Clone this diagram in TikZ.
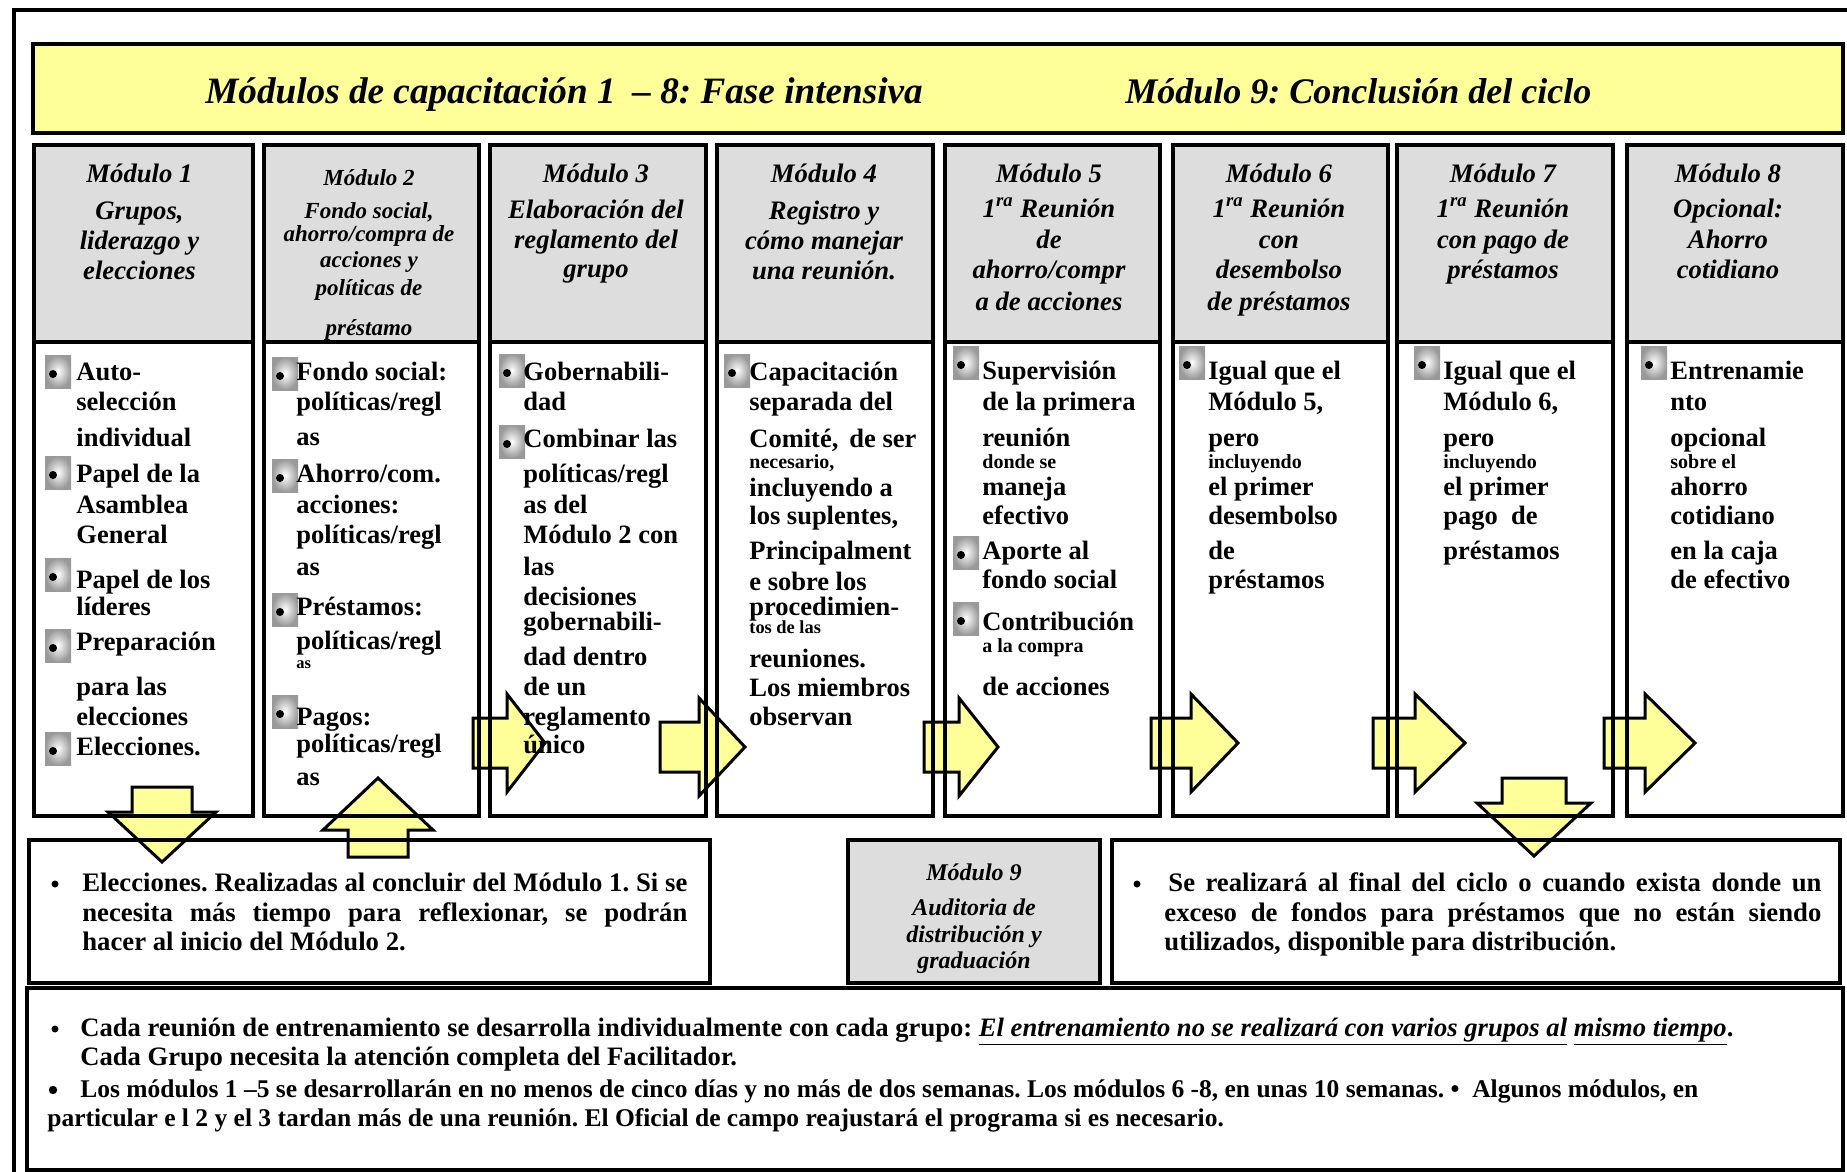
\documentclass[tikz,border=0pt]{standalone}
\usepackage{fontspec}
\setmainfont{Liberation Serif}
\frenchspacing
\usetikzlibrary{fit}
\definecolor{bannery}{RGB}{255,255,153}
\definecolor{hdrgray}{RGB}{221,221,221}
\definecolor{arrowy}{RGB}{255,255,153}
\pgfdeclarelayer{bg}
\pgfdeclarelayer{arr}
\pgfsetlayers{bg,arr,main}
\newcounter{tlc}
\newcommand\BT[4][]{\stepcounter{tlc}\edef\tlname{bt\arabic{tlc}}\node[bt,#1] (\tlname) at (#2,#3) {#4};}
\newcommand\HT[4][]{\stepcounter{tlc}\edef\tlname{ht\arabic{tlc}}\node[hd,#1] (\tlname) at (#2,#3) {#4};}
\newcommand\BQ[2]{\shade[inner color=white,outer color=gray!80] (#1,#2) rectangle ++(26,33);
  \fill (#1+8,#2+19) circle (2pt);}
% x0 (shaft start), xb (head base), xt (tip), yc
\newcommand\RArrow[4]{\draw[blockarrow] (#1,#4-25) -- (#2,#4-25) -- (#2,#4-49) -- (#3,#4) -- (#2,#4+49) -- (#2,#4+25) -- (#1,#4+25) -- cycle;}
% xc, y0 (shaft end), yb (head base), yt (tip), shaft half, head half
\newcommand\VArrow[6]{\draw[blockarrow] (#1-#5,#2) -- (#1-#5,#3) -- (#1-#6,#3) -- (#1,#4) -- (#1+#6,#3) -- (#1+#5,#3) -- (#1+#5,#2) -- cycle;}
\tikzset{
  bt/.style={anchor=base west, inner sep=0pt, font=\fontsize{13.25}{15}\selectfont\bfseries},
  sm/.style={font=\fontsize{10}{12}\selectfont\bfseries},
  hd/.style={anchor=base, inner sep=0pt, font=\fontsize{13.35}{15}\selectfont\bfseries\itshape},
  hdsm/.style={font=\fontsize{11.5}{13}\selectfont\bfseries\itshape},
  ttl/.style={anchor=base west, inner sep=0pt, font=\fontsize{18}{20}\selectfont\bfseries\itshape},
  lt/.style={anchor=base west, inner sep=0pt, font=\fontsize{13.35}{16}\selectfont\bfseries},
  nt/.style={anchor=base west, inner sep=0pt, font=\fontsize{13.3}{15}\selectfont\bfseries},
  ntb/.style={anchor=base west, inner sep=0pt, font=\fontsize{12.75}{15}\selectfont\bfseries},
  frame/.style={draw, inner sep=0pt, line width=1.6pt},
  lowbox/.style={draw, inner sep=0pt, line width=1.9pt},
  blockarrow/.style={draw=black, fill=arrowy, line width=1.5pt, line join=miter},
}
\begin{document}
\begin{tikzpicture}[x=0.5pt,y=-0.5pt]
\useasboundingbox (0,0) rectangle (1847,1172);
\begin{pgfonlayer}{bg}
  \fill[white] (0,0) rectangle (1847,1172);
  \fill[bannery] (33,44) rectangle (1843,133);
  \foreach \xl/\xr in {34/253,264/479,490/706,717/933,945/1160,1173/1388,1397/1613,1627/1843}
    {\fill[hdrgray] (\xl,145) rectangle (\xr,342);}
  \fill[hdrgray] (848,840) rectangle (1100,983);
\end{pgfonlayer}
\begin{pgfonlayer}{arr}
  \RArrow{473}{507}{545}{743}
  \RArrow{660}{699}{745}{747}
  \RArrow{924}{959}{998}{747}
  \RArrow{1151}{1191}{1238}{743}
  \RArrow{1373}{1415}{1465}{743}
  \RArrow{1604}{1645}{1695}{743}
  \VArrow{162}{787}{812}{862}{30}{54}
  \VArrow{1534}{778}{803}{856}{32}{57}
  \VArrow{378}{857}{830}{778}{30}{55}
\end{pgfonlayer}
% outer frame
\draw[line width=1.6pt] (14,1172) -- (14,10) -- (1847,10);
% banner
\node[fit={(33,44)(1843,133)}, draw, inner sep=0pt, line width=2pt] (banner) {};
\node[ttl, font=\fontsize{18.6}{20}\selectfont\bfseries\itshape] (title1) at (205,104) {Módulos de capacitación 1\hspace{0.45em}–\hspace{0.25em}8: Fase intensiva};
\node[ttl] (title2) at (1125,104) {Módulo 9: Conclusión del ciclo};
% module columns
\node[frame, fit={(34,145)(253,342)}] (h1) {};   \node[frame, fit={(34,342)(253,816)}] (b1) {};
\node[frame, fit={(264,145)(479,342)}] (h2) {};  \node[frame, fit={(264,342)(479,816)}] (b2) {};
\node[frame, fit={(490,145)(706,342)}] (h3) {};  \node[frame, fit={(490,342)(706,816)}] (b3) {};
\node[frame, fit={(717,145)(933,342)}] (h4) {};  \node[frame, fit={(717,342)(933,816)}] (b4) {};
\node[frame, fit={(945,145)(1160,342)}] (h5) {}; \node[frame, fit={(945,342)(1160,816)}] (b5) {};
\node[frame, fit={(1173,145)(1388,342)}] (h6) {};\node[frame, fit={(1173,342)(1388,816)}] (b6) {};
\node[frame, fit={(1397,145)(1613,342)}] (h7) {};\node[frame, fit={(1397,342)(1613,816)}] (b7) {};
\node[frame, fit={(1627,145)(1843,342)}] (h8) {};\node[frame, fit={(1627,342)(1843,816)}] (b8) {};
% headers
\HT{139.5}{183}{Módulo 1}\HT{139.5}{219}{Grupos,}\HT{139.5}{249}{liderazgo y}\HT{139.5}{279}{elecciones}
\HT[hdsm]{369}{185}{Módulo 2}\HT[hdsm]{369}{218}{Fondo social,}\HT[hdsm]{369}{241}{ahorro/compra de}
\HT[hdsm]{369}{267}{acciones y}\HT[hdsm]{369}{295}{políticas de}\HT[hdsm]{369}{335}{préstamo}
\HT{596}{183}{Módulo 3}\HT{596}{218}{Elaboración del}\HT{596}{248}{reglamento del}\HT{596}{277}{grupo}
\HT{824}{183}{Módulo 4}\HT{824}{219}{Registro y}\HT{824}{249}{cómo manejar}\HT{824}{279}{una reunión.}
\HT{1049}{183}{Módulo 5}\HT{1049}{217}{1\textsuperscript{ra} Reunión}\HT{1049}{248}{de}\HT{1049}{278}{ahorro/compr}\HT{1049}{310}{a de acciones}
\HT{1279}{183}{Módulo 6}\HT{1279}{217}{1\textsuperscript{ra} Reunión}\HT{1279}{248}{con}\HT{1279}{278}{desembolso}\HT{1279}{310}{de préstamos}
\HT{1503}{183}{Módulo 7}\HT{1503}{217}{1\textsuperscript{ra} Reunión}\HT{1503}{248}{con pago de}\HT{1503}{278}{préstamos}
\HT{1728}{183}{Módulo 8}\HT{1728}{217}{Opcional:}\HT{1728}{248}{Ahorro}\HT{1728}{278}{cotidiano}
% bullets
\BQ{45}{355}\BQ{45}{456}\BQ{45}{558}\BQ{45}{629}\BQ{45}{732}
\BQ{272}{357}\BQ{272}{459}\BQ{272}{593}\BQ{272}{695}
\BQ{499}{354}\BQ{499}{425}
\BQ{724}{354}
\BQ{953}{346}\BQ{953}{536}\BQ{953}{602}
\BQ{1179}{346}
\BQ{1414}{346}
\BQ{1641}{346}
% M1 body
\BT{76}{380}{Auto-}\BT{76}{410}{selección}\BT{76}{446}{individual}
\BT{76}{482}{Papel de la}\BT{76}{513}{Asamblea}\BT{76}{543}{General}
\BT{76}{588}{Papel de los}\BT{76}{615}{líderes}
\BT{76}{650}{Preparación}\BT{76}{695}{para las}\BT{76}{725}{elecciones}
\BT{76}{755}{Elecciones.}
% M2 body
\BT{296}{380}{Fondo social:}\BT{296}{410}{políticas/regl}\BT{296}{445}{as}
\BT{296}{482}{Ahorro/com.}\BT{296}{513}{acciones:}\BT{296}{543}{políticas/regl}\BT{296}{575}{as}
\BT{296}{615}{Préstamos:}\BT{296}{649}{políticas/regl}\BT[font=\fontsize{8.25}{9}\selectfont\bfseries]{296}{668}{as}
\BT{296}{725}{Pagos:}\BT{296}{752}{políticas/regl}\BT{296}{785}{as}
% M3 body
\BT{523}{380}{Gobernabili-}\BT{523}{410}{dad}
\BT{523}{447}{Combinar las}\BT{523}{482}{políticas/regl}\BT{523}{513}{as del}
\BT{523}{543}{Módulo 2 con}\BT{523}{575}{las}\BT{523}{605}{decisiones}
\BT{523}{630}{gobernabili-}\BT{523}{665}{dad dentro}\BT{523}{695}{de un}
\BT{523}{725}{reglamento}\BT{523}{753}{único}
% M4 body
\BT{749}{380}{Capacitación}\BT{749}{410}{separada del}\BT{749}{447}{Comité,\, de ser}
\BT[sm]{749}{468}{necesario,}\BT{749}{496}{incluyendo a}\BT{749}{524}{los suplentes,}
\BT{749}{559}{Principalment}\BT{749}{590}{e sobre los}\BT{749}{615}{procedimien-}
\BT[font=\fontsize{9.2}{10}\selectfont\bfseries]{749}{633}{tos de las}
\BT{749}{667}{reuniones.}\BT{749}{696}{Los miembros}\BT{749}{725}{observan}
% M5 body
\BT{982}{379}{Supervisión}\BT{982}{410}{de la primera}\BT{982}{446}{reunión}
\BT[sm]{982}{468}{donde se}\BT{982}{495}{maneja}\BT{982}{524}{efectivo}
\BT{982}{559}{Aporte al}\BT{982}{588}{fondo social}
\BT{982}{630}{Contribución}\BT[sm]{982}{652}{a la compra}\BT{982}{695}{de acciones}
% M6 body
\BT{1208}{379}{Igual que el}\BT{1208}{410}{Módulo 5,}\BT{1208}{446}{pero}
\BT[sm]{1208}{468}{incluyendo}\BT{1208}{495}{el primer}\BT{1208}{524}{desembolso}
\BT{1208}{559}{de}\BT{1208}{588}{préstamos}
% M7 body
\BT{1443}{379}{Igual que el}\BT{1443}{410}{Módulo 6,}\BT{1443}{446}{pero}
\BT[sm]{1443}{468}{incluyendo}\BT{1443}{495}{el primer}\BT{1443}{524}{pago~ de}
\BT{1443}{559}{préstamos}
% M8 body
\BT{1670}{379}{Entrenamie}\BT{1670}{410}{nto}\BT{1670}{446}{opcional}
\BT[sm]{1670}{468}{sobre el}\BT{1670}{495}{ahorro}\BT{1670}{524}{cotidiano}
\BT{1670}{559}{en la caja}\BT{1670}{588}{de efectivo}
% lower boxes
\node[lowbox, fit={(29,840)(710,983)}] (elec) {};
\node[lowbox, fit={(848,840)(1100,983)}] (m9) {};
\node[lowbox, fit={(1112,840)(1840,983)}] (fin) {};
\node[lowbox, fit={(27,988)(1843,1170)}] (notes) {};
\fill (55,884) circle (1.75pt);
\node[lt] (e1) at (82,891) {\makebox[302.5pt][s]{Elecciones. Realizadas al concluir del Módulo 1. Si se}};
\node[lt] (e2) at (82,921) {\makebox[302.5pt][s]{necesita más tiempo para reflexionar, se podrán}};
\node[lt] (e3) at (82,950) {hacer al inicio del Módulo 2.};
\HT[font=\fontsize{12}{14}\selectfont\bfseries\itshape]{974}{880}{Módulo 9}
\HT[font=\fontsize{12}{14}\selectfont\bfseries\itshape]{974}{915}{Auditoria de}
\HT[font=\fontsize{12}{14}\selectfont\bfseries\itshape]{974}{942}{distribución y}
\HT[font=\fontsize{12}{14}\selectfont\bfseries\itshape]{974}{968}{graduación}
\fill (1137,884) circle (1.75pt);
\node[lt] (f1) at (1168,891) {\makebox[326.5pt][s]{Se realizará al final del ciclo o cuando exista donde un}};
\node[lt] (f2) at (1164,921) {\makebox[328.5pt][s]{exceso de fondos para préstamos que no están siendo}};
\node[lt] (f3) at (1164,950) {utilizados, disponible para distribución.};
% notes
\fill (55,1029) circle (1.75pt);
\fill (53,1090) circle (2.1pt);
\node[nt] (n1) at (80,1036) {Cada reunión de entrenamiento se desarrolla individualmente con cada grupo: \underline{\itshape El entrenamiento no se realizará con varios grupos al} \underline{\itshape mismo tiempo}.};
\node[nt] (n2) at (80,1065) {Cada Grupo necesita la atención completa del Facilitador.};
\node[ntb] (n3) at (80,1097) {Los módulos 1 –5 se desarrollarán en no menos de cinco días y no más de dos semanas. Los módulos 6 -8, en unas 10 semanas. •\enspace Algunos módulos, en};
\node[ntb] (n4) at (47,1126) {particular e l 2 y el 3 tardan más de una reunión. El Oficial de campo reajustará el programa si es necesario.};
\end{tikzpicture}
\end{document}
